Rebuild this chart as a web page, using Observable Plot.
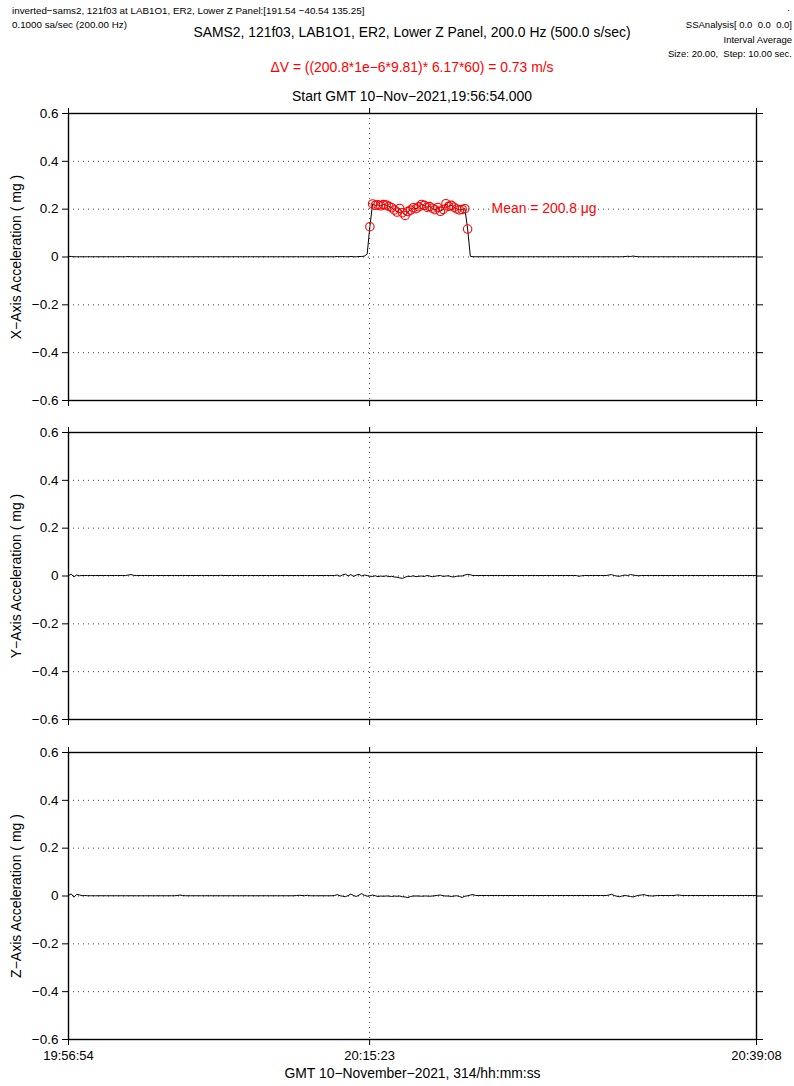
<!DOCTYPE html>
<html><head><meta charset="utf-8">
<script src="https://cdn.jsdelivr.net/npm/d3@7"></script>
<script src="https://cdn.jsdelivr.net/npm/@observablehq/plot@0.6"></script>
<style>
html,body{margin:0;padding:0;background:#fff;}
#page{position:relative;width:794px;height:1086px;overflow:hidden;font-family:"Liberation Sans",Arial,Helvetica,sans-serif;color:#000;}
.t{position:absolute;white-space:pre;line-height:1;}
.c{transform:translateX(-50%);}
.panel{position:absolute;left:0;}
</style></head><body><div id="page"></div>
<script>
// ---------- data ----------
const startISO = "2021-11-10T19:56:54Z";
const endISO = "2021-11-10T20:39:08Z";
const stepSec = 10;
const tickLabels = ["19:56:54", "20:15:23", "20:39:08"];
const markerLabel = "20:15:23";
const yTicks = [-0.6, -0.4, -0.2, 0, 0.2, 0.4, 0.6];
const gridValues = [-0.4, -0.2, 0, 0.2, 0.4];
const pulseFirst = 111, pulseLast = 147;   // indices of the averaged pulse samples (red circles)
const meanMicroG = 200.8;
const axisNames = ["X\u2212Axis Acceleration ( mg )", "Y\u2212Axis Acceleration ( mg )", "Z\u2212Axis Acceleration ( mg )"];
const xAxisTitle = "GMT 10\u2212November\u22122021, 314/hh:mm:ss";

const xAcc = [
 0.003,0.002,0.001,0.001,0.001,0.001,0.001,0.001,0.001,0.001,
 0.001,0.001,0.001,0.001,0.001,0.001,0.001,0.001,0.001,0.001,
 0.001,0.001,0.002,0.001,0.001,0.001,0.001,0.001,0.001,0.001,
 0.001,0.001,0.001,0.001,0.001,0.001,0.001,0.001,0.001,0.001,
 0.001,0.001,0.001,0.001,0.001,0.001,0.001,0.001,0.001,0.001,
 0.001,0.001,0.001,0.001,0.001,0.001,0.001,0.001,0.001,0.001,
 0.001,0.001,0.001,0.001,0.001,0.001,0.001,0.001,0.001,0.001,
 0.001,0.001,0.001,0.001,0.001,0.001,0.001,0.001,0.001,0.001,
 0.001,0.001,0.001,0.001,0.001,0.001,0.001,0.001,0.001,0.001,
 0.001,0.001,0.001,0.001,0.001,0.001,0.001,0.001,0.001,0.002,
 0.001,0.002,0.001,0.001,0.002,0.001,0.001,0.002,0.002,0.004,
 0.012,0.127,0.222,0.216,0.218,0.214,0.219,0.217,0.212,0.206,
 0.197,0.188,0.203,0.185,0.174,0.190,0.196,0.206,0.202,0.210,
 0.220,0.216,0.208,0.211,0.204,0.198,0.207,0.191,0.199,0.223,
 0.212,0.216,0.208,0.201,0.197,0.199,0.202,0.117,0.003,0.001,
 0.001,0.001,0.001,0.001,0.001,0.001,0.001,0.001,0.001,0.001,
 0.001,0.001,0.001,0.001,0.001,0.001,0.001,0.001,0.001,0.001,
 0.001,0.001,0.001,0.001,0.001,0.001,0.001,0.001,0.001,0.001,
 0.001,0.001,0.001,0.001,0.001,0.001,0.001,0.001,0.001,0.001,
 0.001,0.001,0.001,0.001,0.001,0.001,0.001,0.001,0.001,0.001,
 0.001,0.001,0.001,0.001,0.001,0.002,0.003,0.002,0.004,0.002,
 0.001,0.001,0.001,0.001,0.001,0.001,0.001,0.001,0.001,0.001,
 0.001,0.001,0.001,0.001,0.001,0.001,0.001,0.001,0.001,0.001,
 0.001,0.001,0.001,0.001,0.001,0.001,0.001,0.001,0.001,0.001,
 0.001,0.001,0.001,0.001,0.001,0.001,0.001,0.001,0.001,0.001,
 0.001,0.001,0.001,0.001
];

const yAcc = [
 0.002,0.007,-0.003,0.004,0.001,0.002,0.002,0.002,0.002,0.002,
 0.002,0.002,0.002,0.002,0.002,0.002,0.002,0.002,0.002,0.002,
 0.002,0.002,0.004,0.006,0.003,0.002,0.002,0.002,0.002,0.002,
 0.002,0.002,0.002,0.002,0.002,0.002,0.002,0.002,0.002,0.002,
 0.002,0.002,0.002,0.002,0.002,0.002,0.002,0.002,0.002,0.002,
 0.002,0.002,0.002,0.002,0.002,0.002,0.003,0.002,0.002,0.002,
 0.002,0.002,0.002,0.002,0.002,0.002,0.002,0.002,0.002,0.002,
 0.002,0.002,0.002,0.002,0.002,0.002,0.002,0.002,0.002,0.002,
 0.002,0.002,0.002,0.002,0.002,0.002,0.002,0.002,0.002,0.002,
 0.002,0.002,0.002,0.002,0.002,0.002,0.002,0.002,0.002,0.004,
 -0.001,0.005,0.008,0.000,0.006,-0.002,0.004,0.007,0.000,0.004,
 0.002,-0.001,-0.002,0.001,-0.003,0.000,-0.002,0.001,-0.003,-0.001,
 -0.004,-0.005,-0.008,-0.010,-0.005,-0.001,-0.002,0.001,-0.003,-0.001,
 0.000,-0.002,0.002,0.000,-0.003,-0.001,0.001,0.002,-0.002,0.000,
 0.001,-0.003,-0.004,-0.001,0.000,0.000,0.004,0.007,0.005,0.002,
 0.002,0.002,0.002,0.002,0.002,0.002,0.002,0.002,0.002,0.002,
 0.002,0.002,0.002,0.002,0.002,0.002,0.002,0.002,0.002,0.002,
 0.002,0.002,0.002,0.002,0.002,0.002,0.002,0.002,0.002,0.002,
 0.002,0.002,0.002,0.002,0.002,0.002,0.002,0.002,-0.001,0.001,
 0.002,0.002,0.002,0.002,0.002,0.002,0.002,0.002,0.002,0.004,
 0.006,0.002,0.000,-0.001,0.002,0.004,0.002,0.006,0.004,0.002,
 0.001,0.002,0.002,0.002,0.002,0.002,0.002,0.002,0.002,0.002,
 0.002,0.002,0.002,0.002,0.002,0.002,0.002,0.002,0.002,0.002,
 0.002,0.002,0.002,0.002,0.002,0.002,0.002,0.002,0.002,0.002,
 0.002,0.002,0.002,0.002,0.002,0.002,0.002,0.002,0.002,0.002,
 0.002,0.002,0.002,0.002
];

const zAcc = [
 0.003,0.009,-0.005,0.007,0.005,0.001,0.002,0.001,0.001,0.001,
 0.001,0.001,0.001,0.001,0.001,0.001,0.001,0.001,0.001,0.001,
 0.001,0.001,0.001,0.001,0.001,0.001,0.001,0.001,0.001,0.001,
 0.001,0.001,0.001,0.001,0.001,0.001,0.001,0.001,0.001,0.001,
 0.002,0.004,0.002,0.001,0.001,0.001,0.001,0.001,0.001,0.001,
 0.001,0.001,0.001,0.001,0.001,0.001,0.001,0.001,0.001,0.001,
 0.001,0.001,0.001,0.001,0.001,0.001,0.001,0.001,0.001,0.001,
 0.001,0.001,0.001,0.001,0.001,0.001,0.001,0.001,0.001,0.001,
 0.001,0.001,0.001,0.001,0.002,0.003,0.002,0.001,0.003,0.001,
 0.001,0.001,0.001,0.001,0.001,0.001,0.001,0.001,0.002,0.006,
 0.001,-0.001,-0.003,0.002,0.008,0.002,-0.002,0.004,0.010,0.003,
 -0.001,0.001,0.004,0.001,-0.002,0.000,-0.001,0.000,0.000,-0.002,
 0.000,-0.001,0.000,-0.003,-0.004,-0.007,-0.002,0.000,0.000,0.000,
 -0.001,0.000,0.000,-0.001,0.000,0.001,0.003,0.004,0.001,0.000,
 0.000,-0.002,0.000,0.001,-0.002,-0.006,-0.001,0.001,0.004,0.006,
 0.002,0.002,0.002,0.002,0.002,0.002,0.002,0.002,0.002,0.002,
 0.002,0.002,0.002,0.002,0.002,0.002,0.002,0.002,0.002,0.002,
 0.002,0.002,0.002,0.002,0.002,0.002,0.002,0.002,0.002,0.002,
 0.002,0.002,0.002,0.002,0.002,0.002,0.002,0.002,0.002,0.002,
 0.002,0.002,0.002,0.002,0.002,0.002,0.002,0.002,0.002,0.004,
 0.007,0.002,-0.001,-0.003,0.000,0.002,0.000,-0.002,-0.004,0.000,
 0.003,0.004,0.006,0.002,0.001,0.000,0.001,0.002,0.002,0.002,
 0.002,0.002,0.002,0.002,0.004,0.004,0.002,0.002,0.002,0.002,
 0.002,0.002,0.002,0.002,0.002,0.002,0.002,0.002,0.002,0.002,
 0.002,0.002,0.002,0.002,0.002,0.002,0.002,0.002,0.002,0.002,
 0.002,0.002,0.002,0.002
];

// ---------- header texts ----------
const headerLeft = ["inverted\u2212sams2, 121f03 at LAB1O1, ER2, Lower Z Panel:[191.54 \u221240.54 135.25]", "0.1000 sa/sec (200.00 Hz)"];
const headerRight = [".", "SSAnalysis[ 0.0  0.0  0.0]", "Interval Average", "Size: 20.00,  Step: 10.00 sec."];
const title = "SAMS2, 121f03, LAB1O1, ER2, Lower Z Panel, 200.0 Hz (500.0 s/sec)";
const deltaV = "\u0394V = ((200.8*1e\u22126*9.81)* 6.17*60) = 0.73 m/s";
const startText = "Start GMT 10\u2212Nov\u22122021,19:56:54.000";

const RED = "#ff0000";
const FONT = "'Liberation Sans', Arial, Helvetica, sans-serif";
const page = document.getElementById("page");

function addText(txt, css, cls) {
  const d = document.createElement("div");
  d.className = "t" + (cls ? " " + cls : "");
  d.textContent = txt;
  Object.assign(d.style, css);
  page.appendChild(d);
}
addText(headerLeft[0], {left: "12px", top: "6px", fontSize: "9.8px"});
addText(headerLeft[1], {left: "12px", top: "20px", fontSize: "9.8px"});
addText(headerRight[0], {right: "4px", top: "3px", fontSize: "9.5px"});
addText(headerRight[1], {right: "2px", top: "20px", fontSize: "9.5px"});
addText(headerRight[2], {right: "2px", top: "35px", fontSize: "9.5px"});
addText(headerRight[3], {right: "2px", top: "49px", fontSize: "9.5px"});
addText(title, {left: "412px", top: "26px", fontSize: "13.9px"}, "c");
addText(deltaV, {left: "412px", top: "61px", fontSize: "13.9px", color: RED}, "c");
addText(startText, {left: "412px", top: "90px", fontSize: "13.9px"}, "c");

// ---------- panels ----------
const t0 = new Date(startISO), t1 = new Date(endISO);
const tickDates = tickLabels.map(s => new Date("2021-11-10T" + s + "Z"));
const markerDate = new Date("2021-11-10T" + markerLabel + "Z");
const fmtT = d3.utcFormat("%H:%M:%S");
const fmtY = d => d === 0 ? "0" : d.toFixed(1).replace("-", "\u2212");
const blank = () => "";

const series = [xAcc, yAcc, zAcc];
const panelTops = [113, 432, 752];
const plotH = 287;

series.forEach((vals, k) => {
  const last = k === 2;
  const mt = 20, mb = last ? 47 : 20;
  const data = vals.map((v, i) => ({t: new Date(t0.getTime() + i * stepSec * 1000), v}));
  const marks = [
    Plot.gridY(gridValues, {stroke: "#000", strokeOpacity: 0.75, strokeDasharray: "1,4"}),
    Plot.ruleX([markerDate], {stroke: "#000", strokeOpacity: 0.75, strokeDasharray: "1,4"}),
    Plot.line(data, {x: "t", y: "v", stroke: "#000", strokeWidth: 1}),
  ];
  if (k === 0) {
    const pulse = data.slice(pulseFirst, pulseLast + 1);
    marks.push(Plot.dot(pulse, {x: "t", y: "v", r: 4.2, stroke: RED, fill: "none", strokeWidth: 1.1}));
    marks.push(Plot.text([{t: data[pulseLast].t, v: meanMicroG / 1000}], {
      x: "t", y: "v", text: () => `Mean = ${meanMicroG} \u03bcg`, textAnchor: "start", dx: 24,
      fill: RED, stroke: "white", strokeWidth: 4, fontSize: 13.9
    }));
  }
  marks.push(
    Plot.frame({stroke: "#000", strokeWidth: 1.4}),
    Plot.axisY(yTicks, {anchor: "left", tickSize: 6, tickPadding: 4, tickFormat: fmtY, fontSize: 13.5, label: null}),
    Plot.axisY([0], {anchor: "left", tickSize: 0, tickFormat: blank, label: axisNames[k], labelAnchor: "center", labelArrow: "none", labelOffset: 57, fontSize: 14}),
    Plot.axisY(yTicks, {anchor: "right", tickSize: 6, tickFormat: blank, label: null}),
    Plot.axisX(tickDates, {anchor: "top", tickSize: 6, tickFormat: blank, label: null}),
    Plot.axisX(tickDates, {anchor: "bottom", tickSize: 6, tickPadding: 5, tickFormat: last ? fmtT : blank, label: null, fontSize: 13})
  );
  if (last) {
    marks.push(Plot.axisX([], {anchor: "bottom", tickSize: 0, tickFormat: blank, label: xAxisTitle, labelAnchor: "center", labelArrow: "none", labelOffset: 38, fontSize: 13.9}));
  }
  const svg = Plot.plot({
    width: 794,
    height: mt + plotH + mb,
    marginTop: mt, marginBottom: mb, marginLeft: 68, marginRight: 38,
    x: {type: "utc", domain: [t0, t1]},
    y: {domain: [-0.6, 0.6]},
    style: {fontFamily: FONT, fontSize: "13px", background: "transparent", overflow: "visible", color: "#000"},
    marks
  });
  svg.classList.add("panel");
  svg.style.top = (panelTops[k] - mt) + "px";
  svg.style.position = "absolute";
  page.appendChild(svg);
});
</script></body></html>
